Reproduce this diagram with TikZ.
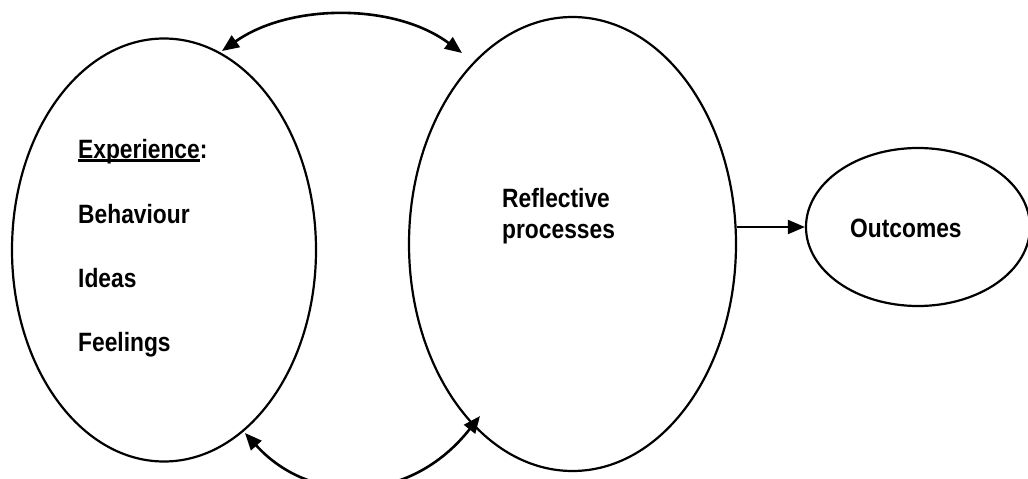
\documentclass[tikz,border=0pt]{standalone}
\usepackage{fontspec}
\setmainfont[FakeStretch=0.86]{Liberation Sans}
\usetikzlibrary{shapes.geometric,arrows.meta}
\newcommand\myul[1]{\setbox0\hbox{#1}\rlap{\rule[-3.5pt]{\wd0}{2.2pt}}\box0}
\tikzset{
  bubble/.style={draw, ellipse, line width=2.2pt, inner sep=0pt},
  lbl/.style={anchor=base west, inner sep=0pt, font=\fontsize{26.5}{30}\selectfont\bfseries},
  conn/.style={line width=2pt, -{Triangle[length=17pt,width=14pt]}},
  biconn/.style={line width=2.6pt, {Triangle[length=17pt,width=14pt]}-{Triangle[length=17pt,width=14pt]}}
}
\begin{document}
\begin{tikzpicture}[x=1pt,y=-1pt]
\useasboundingbox (0,0) rectangle (1028,479);
\clip (0,0) rectangle (1028,479);
\node[bubble, minimum width=304pt, minimum height=423pt] (exp) at (164,250) {};
\node[bubble, minimum width=327pt, minimum height=454pt] (refl) at (572.5,244) {};
\node[bubble, minimum width=224pt, minimum height=158pt] (out) at (918,227) {};
\node[lbl] (t1) at (78,158) {\myul{Experience}:};
\node[lbl] (t2) at (78,223) {Behaviour};
\node[lbl] (t3) at (78,287) {Ideas};
\node[lbl] (t4) at (78,351) {Feelings};
\node[lbl] (t5) at (502,207) {Reflective};
\node[lbl] (t6) at (502,238) {processes};
\node[lbl] (t7) at (850,237) {Outcomes};
\coordinate (a1) at (222,51);
\coordinate (a2) at (462,53);
\coordinate (b1) at (245,433);
\coordinate (b2) at (480,416);
\draw[biconn] (a1) .. controls (290,3) and (395,3) .. (a2);
\draw[biconn] (b1) .. controls (310,505) and (410,505) .. (b2);
\draw[conn] (out.west -| refl.east) -- (out.west);
\end{tikzpicture}
\end{document}
